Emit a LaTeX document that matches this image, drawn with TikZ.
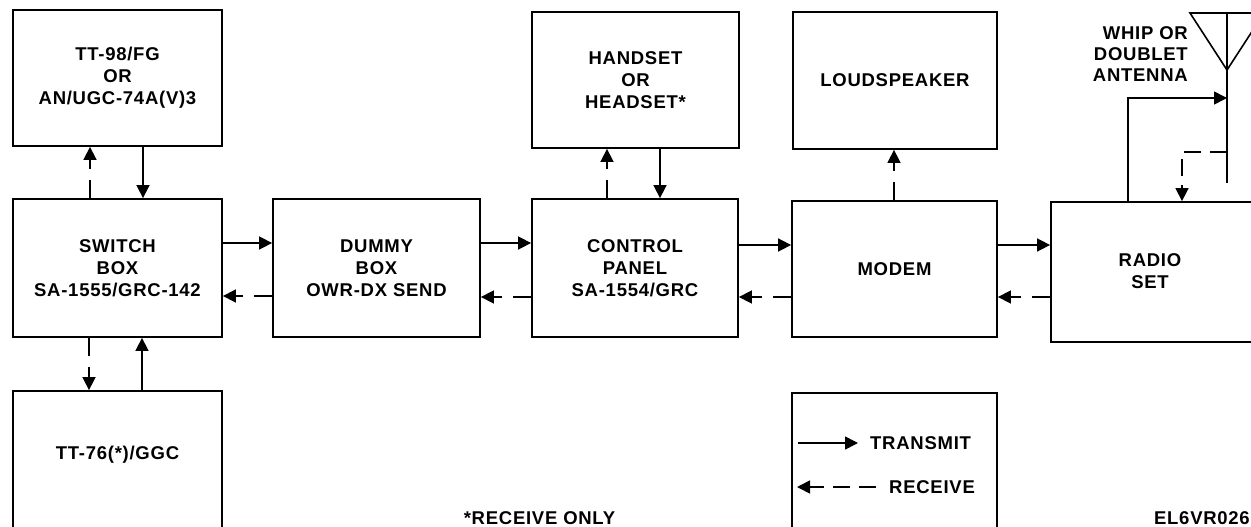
\documentclass[tikz,border=0pt]{standalone}
\usepackage{fontspec}
\setmainfont{Liberation Sans}[LetterSpace=4]
\usetikzlibrary{arrows.meta,calc}
\begin{document}
\begin{tikzpicture}[x=1pt,y=-1pt,
  box/.style={draw, line width=1.8pt, rectangle, inner sep=0pt, align=center,
    font=\fontsize{18.5}{22}\selectfont\bfseries},
  lbl/.style={font=\fontsize{18.5}{22}\selectfont\bfseries, align=center, inner sep=0pt},
  tx/.style={line width=1.6pt, -{Triangle[length=13pt,width=13pt]}},
  rx/.style={tx, dash pattern=on 18pt off 11pt},
  wire/.style={line width=1.6pt},
]
\useasboundingbox (0,0) rectangle (1251,527);

% boxes
\node[box, minimum width=209pt, minimum height=136pt] (tt98) at (117.5,78) {TT-98/FG\\OR\\AN/UGC-74A(V)3};
\node[box, minimum width=209pt, minimum height=138pt] (switch) at (117.5,268) {SWITCH\\BOX\\SA-1555/GRC-142};
\node[box, minimum width=209pt, minimum height=179pt] (tt76) at (117.5,480.5) {};
\node[lbl] (tt76lbl) at (117.5,455) {TT-76(*)/GGC};
\node[box, minimum width=207pt, minimum height=138pt] (dummy) at (376.5,268) {DUMMY\\BOX\\OWR-DX SEND};
\node[box, minimum width=206pt, minimum height=138pt] (control) at (635,268) {CONTROL\\PANEL\\SA-1554/GRC};
\node[box, minimum width=207pt, minimum height=136pt] (handset) at (635.5,80) {HANDSET\\OR\\HEADSET*};
\node[box, minimum width=204pt, minimum height=137pt] (loud) at (895,80.5) {LOUDSPEAKER};
\node[box, minimum width=205pt, minimum height=136pt] (modem) at (894.5,269) {MODEM};
\node[box, minimum width=219pt, minimum height=140pt] (radio) at (1160.5,272) {};
\node[lbl] (radiolbl) at (1150,271) {RADIO\\SET};
\node[box, minimum width=205pt, minimum height=177pt] (legend) at (894.5,481.5) {};

% vertical connectors
\draw[rx] (switch.north -| 90,0) -- (tt98.south -| 90,0);
\draw[tx] (tt98.south -| 143,0) -- (switch.north -| 143,0);
\draw[rx] (switch.south -| 89,0) -- (tt76.north -| 89,0);
\draw[tx] (tt76.north -| 142,0) -- (switch.south -| 142,0);
\draw[rx] (control.north -| 607,0) -- (handset.south -| 607,0);
\draw[tx] (handset.south -| 660,0) -- (control.north -| 660,0);
\draw[rx] (modem.north -| 894,0) -- (loud.south -| 894,0);

% horizontal connectors
\draw[tx] (switch.east |- 0,243) -- (dummy.west |- 0,243);
\draw[rx] (dummy.west |- 0,296) -- (switch.east |- 0,296);
\draw[tx] (dummy.east |- 0,243) -- (control.west |- 0,243);
\draw[rx] (control.west |- 0,297) -- (dummy.east |- 0,297);
\draw[tx] (control.east |- 0,245) -- (modem.west |- 0,245);
\draw[rx] (modem.west |- 0,297) -- (control.east |- 0,297);
\draw[tx] (modem.east |- 0,245) -- (radio.west |- 0,245);
\draw[rx] (radio.west |- 0,297) -- (modem.east |- 0,297);

% antenna
\coordinate (atop) at (1227,13);
\coordinate (apex) at (1227,70);
\coordinate (abot) at (1227,183);
\coordinate (atx) at (1227,98);
\coordinate (arx) at (1227,152);
\draw[wire, line join=miter] (1190,13) -- (apex) -- (1264,13) -- cycle;
\draw[wire] (atop) -- (abot);
\draw[tx] (radio.north -| 1128,0) |- (atx);
\draw[rx, dash pattern=on 17pt off 9pt] (arx) -| (radio.north -| 1182,0);
\node[lbl, align=right, anchor=north east, font=\fontsize{18.5}{21}\selectfont\bfseries] (antlbl) at (1188,26.5) {WHIP OR\\DOUBLET\\ANTENNA};

% legend
\coordinate (ltxa) at (798,443);
\coordinate (ltxb) at (858,443);
\draw[tx] (ltxa) -- (ltxb);
\node[lbl, anchor=west] (ltxt) at (870,443) {TRANSMIT};
\coordinate (lrxa) at (876,487);
\coordinate (lrxb) at (797,487);
\draw[rx, dash pattern=on 17pt off 9pt] (lrxa) -- (lrxb);
\node[lbl, anchor=west] (lrxt) at (889,487) {RECEIVE};

% notes
\node[lbl] (note) at (539.5,518) {*RECEIVE ONLY};
\node[lbl, anchor=east] (code) at (1250,518) {EL6VR026};
\end{tikzpicture}
\end{document}
